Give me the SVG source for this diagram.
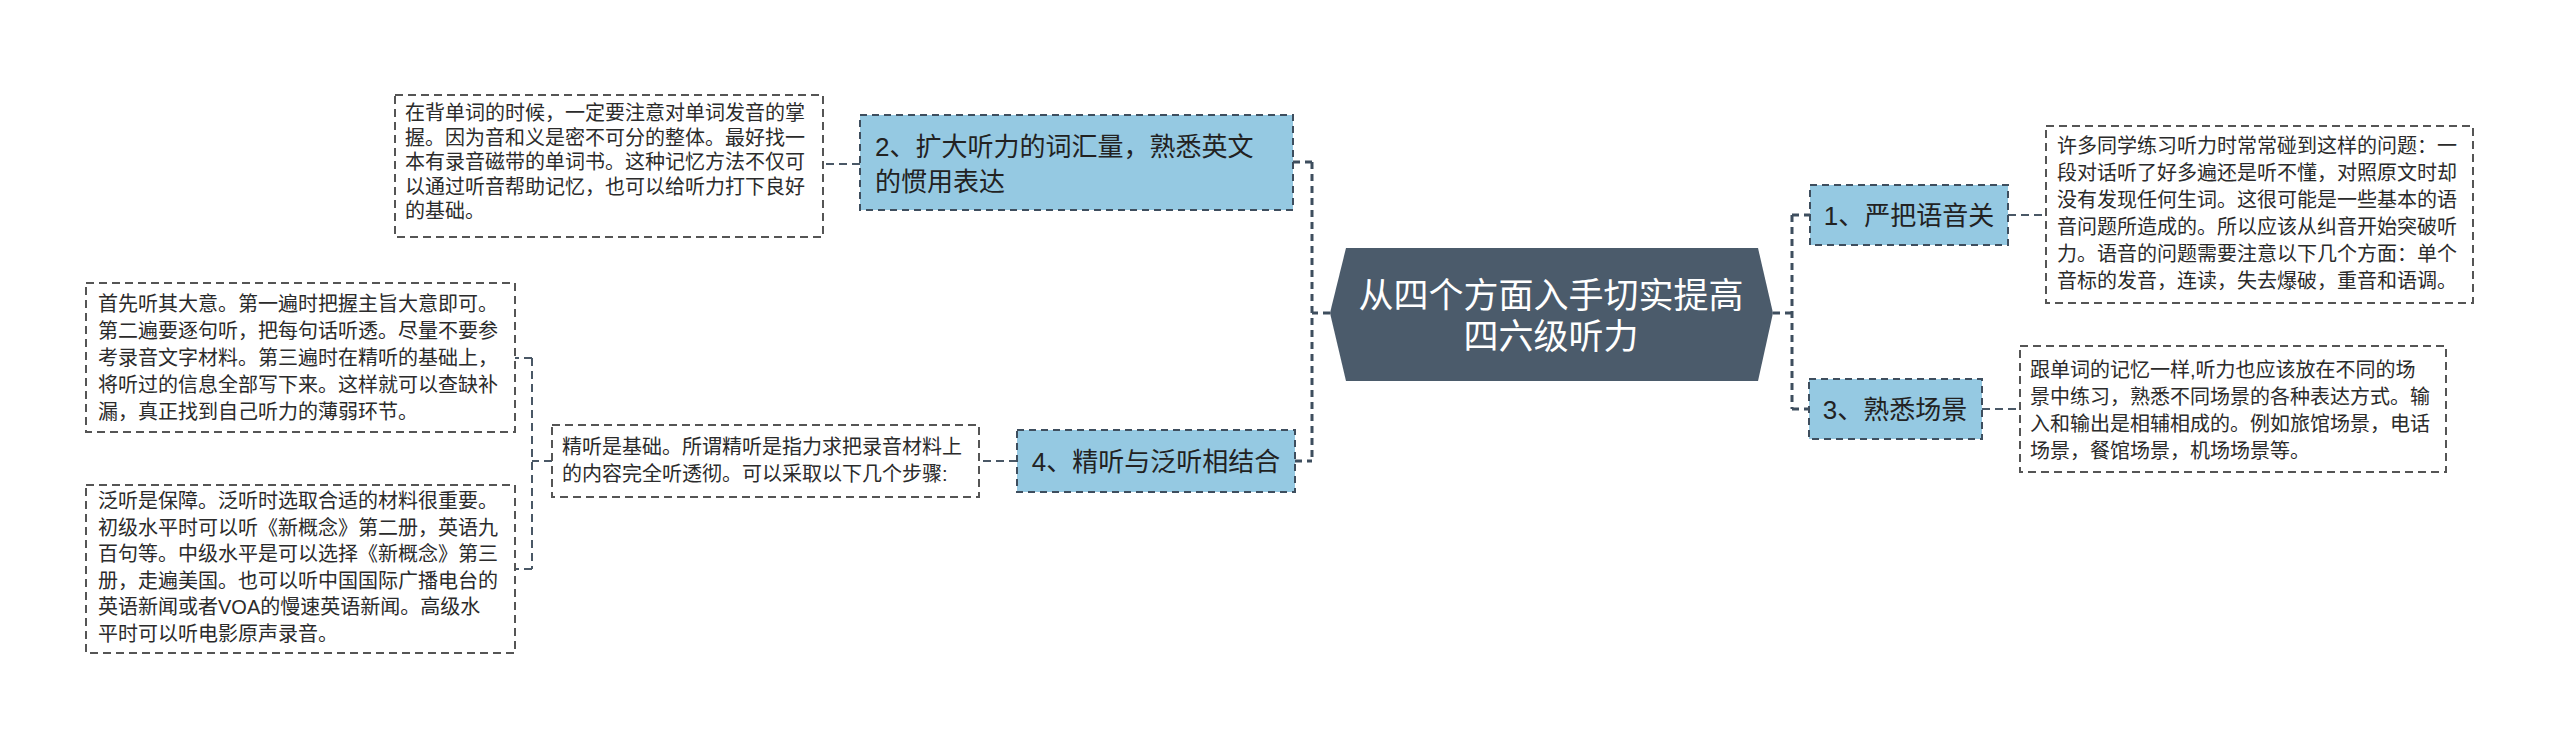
<svg xmlns="http://www.w3.org/2000/svg" width="2560" height="741" viewBox="0 0 2560 741">
<style>
.t{font-family:"Liberation Sans","Noto Sans CJK SC",sans-serif;fill:#2b2b2b}
.d{font-size:20px}
.n{font-size:26px;fill:#222}
.c{font-size:35px;fill:#ffffff}
.node{fill:#95c9e2;stroke:#3e4e5e;stroke-width:2;stroke-dasharray:7 5}
.desc{fill:#ffffff;stroke:#555555;stroke-width:2;stroke-dasharray:8 5}
.trunk{fill:none;stroke:#3e4e5e;stroke-width:3;stroke-dasharray:7 5}
.leaf{fill:none;stroke:#4a5866;stroke-width:2;stroke-dasharray:8 5}
</style>
<rect width="2560" height="741" fill="#ffffff"/>
<g id="connectors">
<path class="trunk" d="M1330 313 H1312 M1312 162 V461 M1293 162 H1312 M1295 461 H1312"/>
<path class="trunk" d="M1773 313 H1792 M1792 215 V409 M1792 215 H1810 M1792 409 H1809"/>
<path class="leaf" d="M860 164 H823"/>
<path class="leaf" d="M1017 461 H979"/>
<path class="leaf" d="M552 461 H532 M532 358 V569 M532 358 H515 M532 569 H515"/>
<path class="leaf" d="M2008 215 H2046"/>
<path class="leaf" d="M1982 409 H2020"/>
</g>
<g id="center">
<polygon points="1330,313 1346,248 1758,248 1773,313 1758,381 1346,381" fill="#4b5b6b"/>
<text class="t c" x="1551" y="308" text-anchor="middle">从四个方面入手切实提高</text>
<text class="t c" x="1551" y="349" text-anchor="middle">四六级听力</text>
</g>
<g id="node2">
<rect class="node" x="860" y="115" width="433" height="95"/>
<text class="t n" x="875" y="156">2、扩大听力的词汇量，熟悉英文</text>
<text class="t n" x="875" y="191">的惯用表达</text>
</g>
<g id="desc2">
<rect class="desc" x="395" y="95" width="428" height="142"/>
<text class="t d" x="405" y="120">在背单词的时候，一定要注意对单词发音的掌</text>
<text class="t d" x="405" y="144.5">握。因为音和义是密不可分的整体。最好找一</text>
<text class="t d" x="405" y="169">本有录音磁带的单词书。这种记忆方法不仅可</text>
<text class="t d" x="405" y="193.5">以通过听音帮助记忆，也可以给听力打下良好</text>
<text class="t d" x="405" y="218">的基础。</text>
</g>
<g id="node4">
<rect class="node" x="1017" y="430" width="278" height="62"/>
<text class="t n" x="1156" y="471" text-anchor="middle">4、精听与泛听相结合</text>
</g>
<g id="desc4">
<rect class="desc" x="552" y="425" width="427" height="72"/>
<text class="t d" x="562" y="454">精听是基础。所谓精听是指力求把录音材料上</text>
<text class="t d" x="562" y="481">的内容完全听透彻。可以采取以下几个步骤:</text>
</g>
<g id="desc4a">
<rect class="desc" x="86" y="283" width="429" height="149"/>
<text class="t d" x="98" y="311">首先听其大意。第一遍时把握主旨大意即可。</text>
<text class="t d" x="98" y="338">第二遍要逐句听，把每句话听透。尽量不要参</text>
<text class="t d" x="98" y="365">考录音文字材料。第三遍时在精听的基础上，</text>
<text class="t d" x="98" y="392">将听过的信息全部写下来。这样就可以查缺补</text>
<text class="t d" x="98" y="419">漏，真正找到自己听力的薄弱环节。</text>
</g>
<g id="desc4b">
<rect class="desc" x="86" y="485" width="429" height="168"/>
<text class="t d" x="98" y="508">泛听是保障。泛听时选取合适的材料很重要。</text>
<text class="t d" x="98" y="534.5">初级水平时可以听《新概念》第二册，英语九</text>
<text class="t d" x="98" y="561">百句等。中级水平是可以选择《新概念》第三</text>
<text class="t d" x="98" y="587.5">册，走遍美国。也可以听中国国际广播电台的</text>
<text class="t d" x="98" y="614">英语新闻或者VOA的慢速英语新闻。高级水</text>
<text class="t d" x="98" y="640.5">平时可以听电影原声录音。</text>
</g>
<g id="node1">
<rect class="node" x="1810" y="185" width="198" height="60"/>
<text class="t n" x="1909" y="225" text-anchor="middle">1、严把语音关</text>
</g>
<g id="desc1">
<rect class="desc" x="2046" y="126" width="427" height="177"/>
<text class="t d" x="2057" y="153">许多同学练习听力时常常碰到这样的问题：一</text>
<text class="t d" x="2057" y="180">段对话听了好多遍还是听不懂，对照原文时却</text>
<text class="t d" x="2057" y="207">没有发现任何生词。这很可能是一些基本的语</text>
<text class="t d" x="2057" y="234">音问题所造成的。所以应该从纠音开始突破听</text>
<text class="t d" x="2057" y="261">力。语音的问题需要注意以下几个方面：单个</text>
<text class="t d" x="2057" y="288">音标的发音，连读，失去爆破，重音和语调。</text>
</g>
<g id="node3">
<rect class="node" x="1809" y="379" width="173" height="60"/>
<text class="t n" x="1895" y="419" text-anchor="middle">3、熟悉场景</text>
</g>
<g id="desc3">
<rect class="desc" x="2020" y="346" width="426" height="126"/>
<text class="t d" x="2030" y="377">跟单词的记忆一样,听力也应该放在不同的场</text>
<text class="t d" x="2030" y="404">景中练习，熟悉不同场景的各种表达方式。输</text>
<text class="t d" x="2030" y="431">入和输出是相辅相成的。例如旅馆场景，电话</text>
<text class="t d" x="2030" y="458">场景，餐馆场景，机场场景等。</text>
</g>
</svg>
